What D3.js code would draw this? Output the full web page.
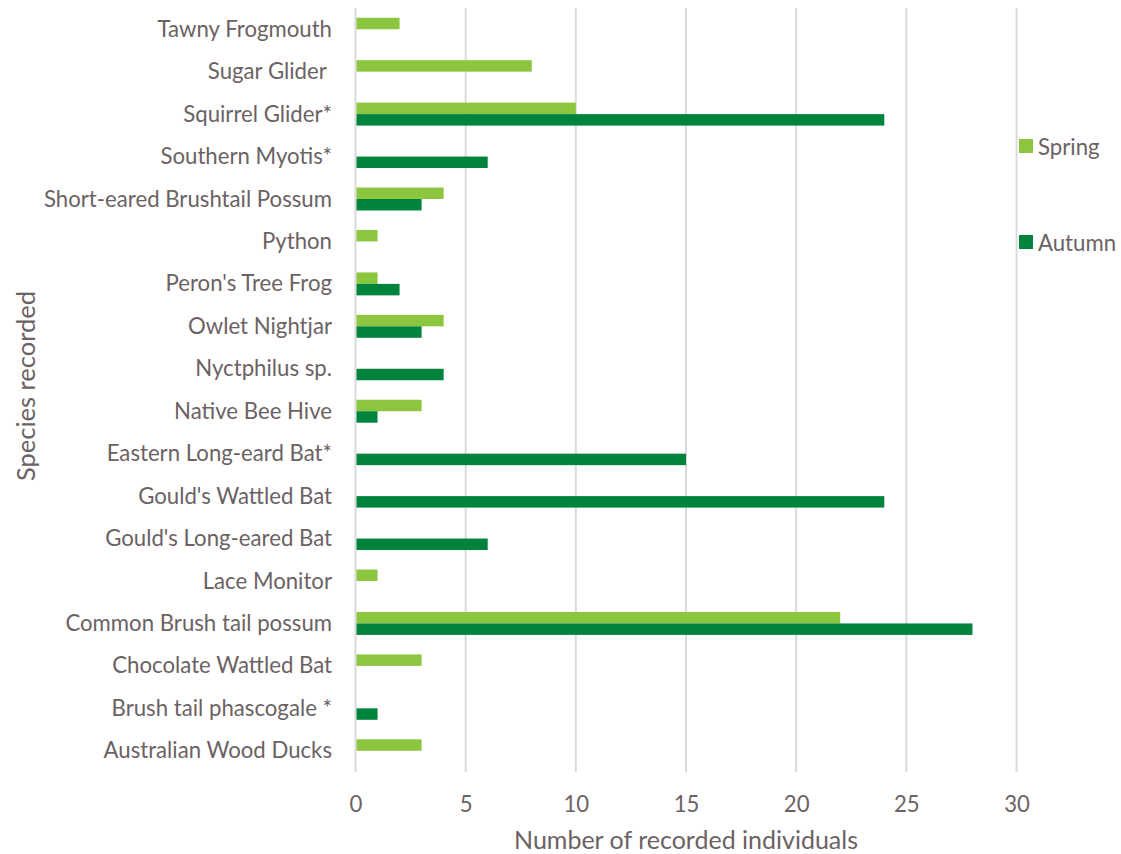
<!DOCTYPE html>
<html>
<head>
<meta charset="utf-8">
<script src="https://cdn.jsdelivr.net/npm/d3@7"></script>
<style>
  html, body { margin: 0; padding: 0; background: #ffffff; }
  svg { display: block; }
  text { font-family: Lato, "Open Sans", sans-serif; fill: #6b6264; white-space: pre; }
</style>
</head>
<body>
<svg id="chart" width="1121" height="854"></svg>
<script>
// Species listed top to bottom
const species = [
  "Tawny Frogmouth", "Sugar Glider ", "Squirrel Glider*", "Southern Myotis*",
  "Short-eared Brushtail Possum", "Python", "Peron's Tree Frog", "Owlet Nightjar",
  "Nyctphilus sp.", "Native Bee Hive", "Eastern Long-eard Bat*", "Gould's Wattled Bat",
  "Gould's Long-eared Bat", "Lace Monitor", "Common Brush tail possum",
  "Chocolate Wattled Bat", "Brush tail phascogale *", "Australian Wood Ducks"
];
const spring = [2, 8, 10, null, 4, 1, 1, 4, null, 3, null, null, null, 1, 22, 3, null, 3];
const autumn = [null, null, 24, 6, 3, null, 2, 3, 4, 1, 15, 24, 6, null, 28, null, 1, null];
const seriesNames = ["Spring", "Autumn"];
const seriesColors = ["#8cc63f", "#00843d"];
const xTicks = [0, 5, 10, 15, 20, 25, 30];

const svg = d3.select("#chart");
const plot = { left: 355.5, right: 1016.5, top: 8, bottom: 772 };
const labelSize = 22.2;

const x = d3.scaleLinear().domain([0, 30]).range([plot.left, plot.right]);
const y = d3.scaleBand().domain(species).range([plot.top, plot.bottom]).paddingInner(0).paddingOuter(0);
const sub = d3.scaleBand().domain(seriesNames).range([0, y.bandwidth()]).paddingInner(0).paddingOuter(0.85);

// Vertical gridlines
svg.append("g")
  .selectAll("line")
  .data(xTicks)
  .join("line")
  .attr("x1", d => x(d)).attr("x2", d => x(d))
  .attr("y1", plot.top).attr("y2", plot.bottom)
  .attr("stroke", "#dcd9da").attr("stroke-width", 2);

// Bars
const rows = species.map((s, i) => ({ s, vals: [spring[i], autumn[i]] }));
const groups = svg.append("g").selectAll("g")
  .data(rows).join("g")
  .attr("transform", d => `translate(0,${y(d.s)})`);
groups.selectAll("rect")
  .data(d => d.vals.map((v, k) => ({ v, k })).filter(e => e.v != null))
  .join("rect")
  .attr("x", x(0) + 1)
  .attr("y", e => sub(seriesNames[e.k]))
  .attr("width", e => x(e.v) - x(0) - 1)
  .attr("height", sub.bandwidth())
  .attr("fill", e => seriesColors[e.k]);

// Category labels
svg.append("g").selectAll("text")
  .data(species).join("text")
  .attr("x", 332)
  .attr("y", d => y(d) + y.bandwidth() / 2 - 1)
  .attr("text-anchor", "end")
  .attr("dominant-baseline", "central")
  .attr("font-size", labelSize)
  .text(d => d);

// X tick labels
const xAxis = d3.axisBottom(x).tickValues(xTicks).tickSize(0).tickPadding(0);
const gx = svg.append("g").attr("transform", `translate(0,${plot.bottom})`).call(xAxis);
gx.select(".domain").remove();
gx.selectAll("text")
  .attr("y", 31)
  .attr("dy", null)
  .attr("dominant-baseline", "central")
  .attr("font-size", labelSize)
  .attr("fill", "#6b6264")
  .attr("font-family", "Lato, 'Open Sans', sans-serif");

// Axis titles
svg.append("text")
  .attr("x", 686).attr("y", 839)
  .attr("text-anchor", "middle").attr("dominant-baseline", "central")
  .attr("font-size", 25)
  .text("Number of recorded individuals");
svg.append("text")
  .attr("transform", "translate(25,386) rotate(-90)")
  .attr("text-anchor", "middle").attr("dominant-baseline", "central")
  .attr("font-size", 25.5)
  .text("Species recorded");

// Legend
const legendY = [146, 242];
const legend = svg.append("g").selectAll("g")
  .data(seriesNames).join("g")
  .attr("transform", (d, i) => `translate(1019,${legendY[i]})`);
legend.append("rect")
  .attr("x", 0).attr("y", -7).attr("width", 14).attr("height", 14)
  .attr("fill", (d, i) => seriesColors[i]);
legend.append("text")
  .attr("x", 19).attr("y", 0)
  .attr("dominant-baseline", "central")
  .attr("font-size", labelSize)
  .text(d => d);
</script>
</body>
</html>
